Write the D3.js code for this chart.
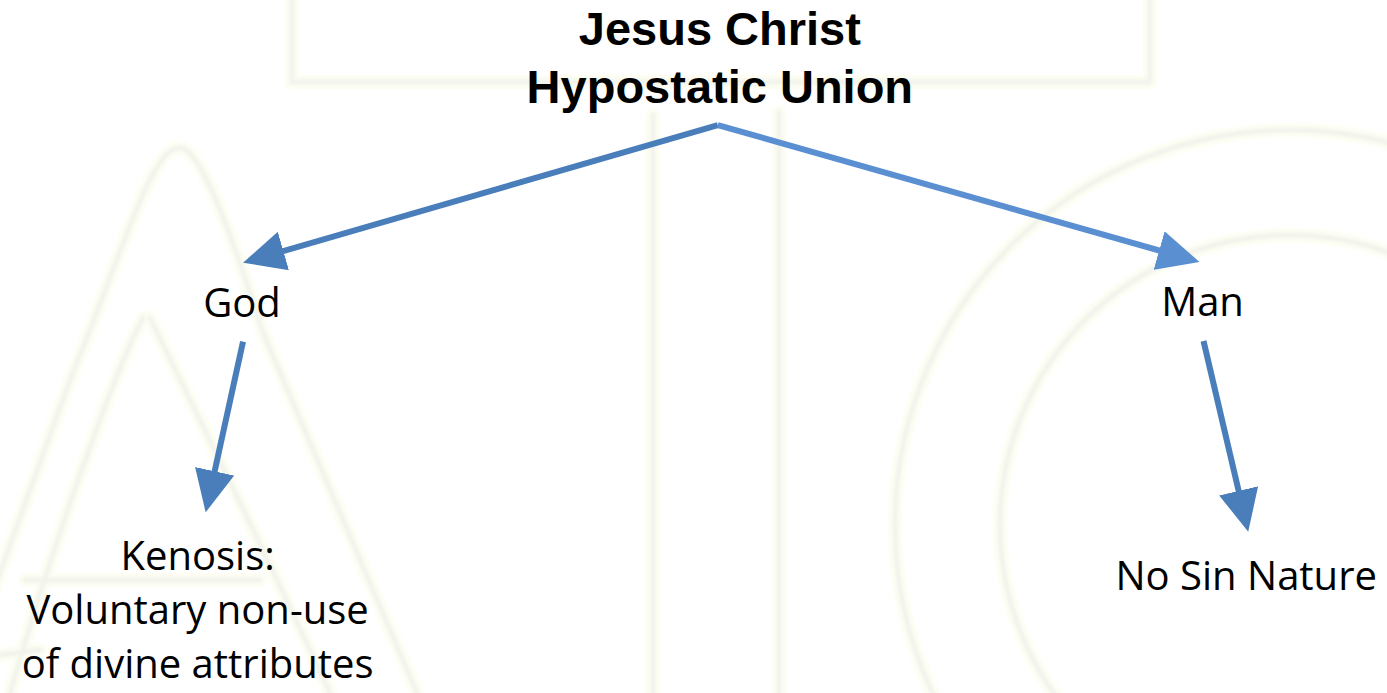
<!DOCTYPE html>
<html>
<head>
<meta charset="utf-8">
<script src="https://cdn.jsdelivr.net/npm/d3@7"></script>
<style>
  html, body { margin: 0; padding: 0; background: #fff; overflow: hidden; }
</style>
</head>
<body>
<div id="chart"></div>
<script>
// diagram content
var nodeLabels = [
    ["Jesus Christ", "Hypostatic Union"],
    ["God"],
    ["Man"],
    ["Kenosis:", "Voluntary non-use", "of divine attributes"],
    ["No Sin Nature"]
]
var nodeLevel = [0, 1, 1, 2, 2]
// horizontal place of each node, in percent of the slide width
var nodeCol = [51.9, 17.45, 86.7, 14.25, 89.85]
// first baseline of each node, in percent of slide height
var nodeRow = [6.5, 45.7, 45.6, 82.3, 85.1]
var edges = [[0, 1], [0, 2], [1, 3], [2, 4]]
var edgeColors = ["#4a7ebb", "#5a8fd2", "#4a7ebb", "#4a7ebb"]

var W = 1387, H = 693
var x = d3.scaleLinear().domain([0, 100]).range([0, W])
var y = d3.scaleLinear().domain([0, 100]).range([0, H])
var headLen = 42

var svg = d3.select("#chart")
    .append("svg")
    .attr("width", W)
    .attr("height", H)

var defs = svg.append("defs")
defs.append("filter")
    .attr("id", "soft")
    .append("feGaussianBlur")
    .attr("stdDeviation", 1.8)

edgeColors.forEach(function (c, i) {
    defs.append("marker")
        .attr("id", "head" + i)
        .attr("markerUnits", "userSpaceOnUse")
        .attr("markerWidth", 44)
        .attr("markerHeight", 40)
        .attr("refX", 10)
        .attr("refY", 20)
        .attr("orient", "auto")
        .append("path")
        .attr("d", "M0,0 L" + headLen + ",20 L0,40 Z")
        .attr("fill", c)
})

// faint watermark behind the diagram
var wm = svg.append("g")
    .attr("filter", "url(#soft)")
    .attr("fill", "none")
    .attr("opacity", 0.75)
    .attr("stroke-linecap", "round")
    .attr("stroke-linejoin", "round")

var wmPaths = [
    "M292,-10 L292,82 L1150,82 L1150,-10",
    "M653,115 L653,700",
    "M779,112 L779,700",
    "M178,148 C150,150 120,260 70,380 L-10,600",
    "M182,148 C205,155 240,260 262,330 L420,700",
    "M143,318 C120,360 60,520 10,693",
    "M150,318 C190,400 250,520 330,693",
    "M25,580 L260,580",
    "M0,655 L40,650"
]
var wmArcs = [[1290, 525, 395], [1290, 525, 290]]

wm.selectAll(".halo")
    .data(wmPaths)
    .enter()
    .append("path")
    .attr("d", d => d)
    .attr("stroke", "#fcfdee")
    .attr("stroke-width", 14)

wm.selectAll(".halo-arc")
    .data(wmArcs)
    .enter()
    .append("circle")
    .attr("cx", d => d[0])
    .attr("cy", d => d[1])
    .attr("r", d => d[2])
    .attr("stroke", "#fcfdee")
    .attr("stroke-width", 14)

wm.selectAll(".line")
    .data(wmPaths)
    .enter()
    .append("path")
    .attr("d", d => d)
    .attr("stroke", "#eef0e7")
    .attr("stroke-width", 5)

wm.selectAll(".arc")
    .data(wmArcs)
    .enter()
    .append("circle")
    .attr("cx", d => d[0])
    .attr("cy", d => d[1])
    .attr("r", d => d[2])
    .attr("stroke", "#eef0e7")
    .attr("stroke-width", 5)

// arrows: line stops short so the head tip lands on the target point
function startPoint(i) {
    var d = nodeLabels[i].length
    if (nodeLevel[i] == 0) return [x(nodeCol[i]) - 2, y(nodeRow[i]) + 80]
    return [x(nodeCol[i]) + 1, y(nodeRow[i]) + 25 + (d - 1) * 55]
}
function tipPoint(i) {
    if (nodeLevel[i] == 1) return [x(nodeCol[i]) + (nodeCol[i] < 50 ? 1 : -3), y(nodeRow[i]) - 54]
    return [x(nodeCol[i]) + (nodeCol[i] < 50 ? 8 : 2), y(nodeRow[i]) - 58]
}
function lineEnd(e) {
    var s = startPoint(e[0]), t = tipPoint(e[1])
    var dx = t[0] - s[0], dy = t[1] - s[1], len = Math.sqrt(dx * dx + dy * dy)
    var back = headLen - 10
    return [t[0] - dx / len * back, t[1] - dy / len * back]
}

svg.append("g")
    .selectAll("line")
    .data(edges)
    .enter()
    .append("line")
    .attr("x1", d => startPoint(d[0])[0])
    .attr("y1", d => startPoint(d[0])[1])
    .attr("x2", d => lineEnd(d)[0])
    .attr("y2", d => lineEnd(d)[1])
    .attr("stroke", (d, i) => edgeColors[i])
    .attr("stroke-width", 6)
    .attr("marker-end", (d, i) => "url(#head" + i + ")")

// labels
var labels = svg.append("g")
    .selectAll("text")
    .data(nodeLabels)
    .enter()
    .append("text")
    .attr("text-anchor", "middle")
    .attr("fill", "#000")
    .style("font-family", (d, i) => nodeLevel[i] == 0 ? "'Liberation Sans', Arial, sans-serif" : "'Open Sans', 'Noto Sans', sans-serif")
    .style("font-weight", (d, i) => nodeLevel[i] == 0 ? 700 : 400)
    .style("font-size", (d, i) => nodeLevel[i] == 0 ? "47px" : "40px")

labels.selectAll("tspan")
    .data((d, i) => d.map(function (t, k) { return { t: t, k: k, i: i } }))
    .enter()
    .append("tspan")
    .attr("x", d => x(nodeCol[d.i]))
    .attr("y", d => y(nodeRow[d.i]) + d.k * (nodeLevel[d.i] == 0 ? 58 : 54))
    .text(d => d.t)
</script>
</body>
</html>
